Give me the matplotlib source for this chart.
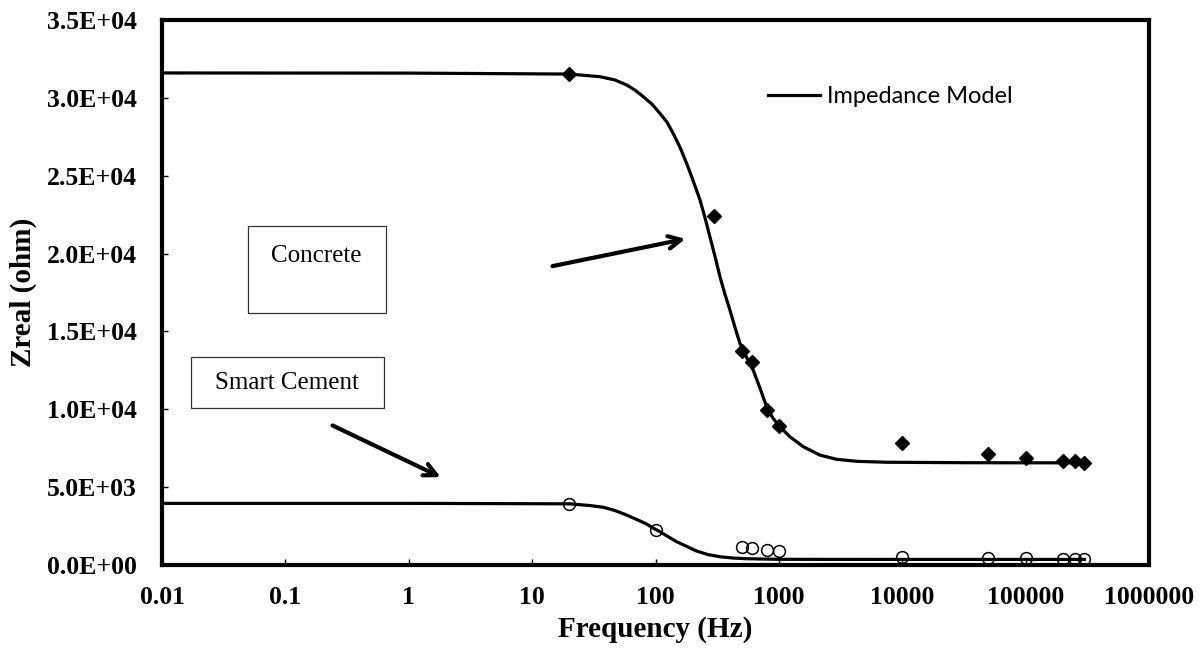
import numpy as np
import matplotlib
matplotlib.use("Agg")
import matplotlib.pyplot as plt
from matplotlib.patches import Rectangle
from matplotlib.ticker import FixedLocator, FuncFormatter, NullLocator

# measured points
freq_concrete = [20, 300, 500, 600, 800, 1000, 10000, 50000, 100000, 200000, 250000, 300000]
z_concrete = [31550, 22400, 13750, 13050, 9950, 8950, 7850, 7100, 6900, 6700, 6650, 6550]

freq_cement = [20, 100, 500, 600, 800, 1000, 10000, 50000, 100000, 200000, 250000, 300000]
z_cement = [3920, 2230, 1180, 1070, 960, 900, 500, 430, 430, 400, 400, 400]

# impedance model curves
model_f_concrete = [0.01, 1, 20, 35.4, 46.9, 58.3, 68.1, 79.5, 93.5, 108.6, 123.7, 139,
                    157.7, 178.6, 201, 229.4, 251, 276, 303, 333, 365, 401, 440, 483,
                    551, 619, 702, 795, 894, 1019, 1227, 1575, 2149, 2936, 4266, 7464,
                    35300, 300000]
model_z_concrete = [31600, 31590, 31530, 31360, 31150, 30830, 30500, 30080, 29600, 29000,
                    28450, 27720, 26840, 25800, 24720, 23440, 22350, 21080, 19840, 18520,
                    17400, 16380, 15280, 14240, 13290, 12520, 11370, 10170, 9440, 8880,
                    8240, 7600, 7060, 6790, 6660, 6600, 6570, 6560]

model_f_cement = [0.01, 1, 20, 29.4, 37.7, 46.9, 58.3, 70.7, 84.7, 95.3, 108.6, 126, 148,
                  180, 215, 266, 333, 424, 547, 1020, 10000, 300000]
model_z_cement = [3960, 3960, 3930, 3820, 3710, 3500, 3210, 2920, 2630, 2380, 2140, 1830,
                  1500, 1190, 900, 670, 530, 450, 405, 366, 360, 360]

xticks = [0.01, 0.1, 1, 10, 100, 1000, 10000, 100000, 1000000]
yticks = [0, 5000, 10000, 15000, 20000, 25000, 30000, 35000]

serif = ["Liberation Serif", "DejaVu Serif"]

fig = plt.figure(figsize=(12.03, 6.52), dpi=100)
ax = fig.add_axes([0.1347, 0.1334, 0.8204, 0.8359])

ax.plot(model_f_concrete, model_z_concrete, color="k", lw=2.3, label="Impedance Model")
ax.plot(model_f_cement, model_z_cement, color="k", lw=2.3)
ax.plot(freq_concrete, z_concrete, linestyle="none", marker="D", ms=7, color="k")
ax.plot(freq_cement, z_cement, linestyle="none", marker="o", ms=8.5,
        markerfacecolor="none", markeredgecolor="k", mew=1.1)

ax.set_xscale("log")
ax.set_xlim(0.01, 1000000)
ax.set_ylim(0, 35000)
ax.xaxis.set_major_locator(FixedLocator(xticks))
ax.xaxis.set_minor_locator(NullLocator())
ax.xaxis.set_major_formatter(FuncFormatter(lambda v, p: str(v) if v < 1 else str(int(round(v)))))
ax.yaxis.set_major_locator(FixedLocator(yticks))
ax.yaxis.set_major_formatter(FuncFormatter(lambda v, p: "%.1E" % v))

ax.tick_params(axis="both", direction="in", length=4, width=1)
ax.tick_params(axis="x", pad=15)
ax.tick_params(axis="y", pad=18)
for lab in ax.get_xticklabels() + ax.get_yticklabels():
    lab.set_family(serif)
    lab.set_fontweight("bold")
    lab.set_fontsize(18.5)

for s in ax.spines.values():
    s.set_linewidth(3)

ax.set_xlabel("Frequency (Hz)", family=serif, fontweight="bold", fontsize=21, labelpad=5)
ax.set_ylabel("Zreal (ohm)", family=serif, fontweight="bold", fontsize=21, labelpad=7)

ax.legend(loc="center left", bbox_to_anchor=(0.602, 0.859), frameon=False,
          handlelength=2.2, handletextpad=0.3, borderpad=0,
          prop={"family": "Lato", "size": 17})

# labelled boxes
ax.add_patch(Rectangle((0.087, 0.462), 0.140, 0.160, transform=ax.transAxes,
                       fill=False, lw=0.9, edgecolor="#333333"))
ax.text(0.156, 0.567, "Concrete", transform=ax.transAxes, ha="center", va="center",
        family=serif, fontsize=18)
ax.add_patch(Rectangle((0.029, 0.288), 0.196, 0.094, transform=ax.transAxes,
                       fill=False, lw=0.9, edgecolor="#333333"))
ax.text(0.127, 0.334, "Smart Cement", transform=ax.transAxes, ha="center", va="center",
        family=serif, fontsize=18)

arrow = dict(arrowstyle="->,head_length=0.9,head_width=0.45", color="k", lw=3)
ax.annotate("", xy=(184, 20980), xytext=(13.9, 19160), arrowprops=arrow)
ax.annotate("", xy=(1.9, 5570), xytext=(0.23, 9040), arrowprops=arrow)

fig.savefig("out.png", dpi=100)
